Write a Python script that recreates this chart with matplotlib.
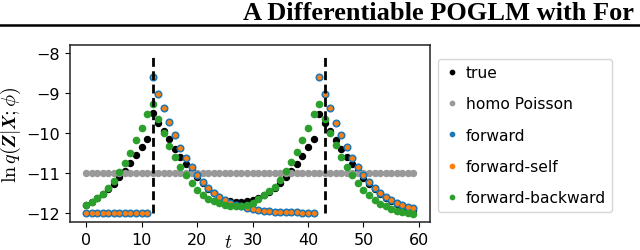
import matplotlib
matplotlib.use('Agg')
import matplotlib.pyplot as plt
from matplotlib.lines import Line2D

plt.rcParams['font.family'] = 'DejaVu Sans'
plt.rcParams['font.size'] = 11.5
plt.rcParams['mathtext.fontset'] = 'cm'

# time steps and the two spike times (dashed lines)
t = list(range(60))
spike_times = [12, 43]

true_vals = [-11.80, -11.72, -11.62, -11.52, -11.40, -11.27, -11.11, -10.96, -10.76, -10.55,
             -10.34, -10.14, -9.50, -9.75, -9.95, -10.16, -10.39, -10.59, -10.78, -10.95,
             -11.11, -11.26, -11.40, -11.51, -11.60, -11.67, -11.71, -11.73, -11.73, -11.71,
             -11.68, -11.63, -11.56, -11.48, -11.38, -11.26, -11.11, -10.96, -10.78, -10.57,
             -10.36, -10.14, -9.52, -9.74, -9.95, -10.18, -10.39, -10.59, -10.78, -10.96,
             -11.12, -11.27, -11.41, -11.53, -11.63, -11.71, -11.78, -11.84, -11.89, -11.93]

homo_vals = [-11.0] * 60

forward_vals = [-12.0, -12.0, -12.0, -12.0, -12.0, -12.0, -12.0, -12.0, -12.0, -12.0,
                -12.0, -12.0, -8.60, -9.02, -9.38, -9.73, -10.06, -10.37, -10.62, -10.86,
                -11.06, -11.23, -11.37, -11.49, -11.59, -11.68, -11.74, -11.79, -11.83, -11.87,
                -11.90, -11.92, -11.94, -11.95, -11.96, -11.97, -11.97, -11.98, -11.98, -11.99,
                -11.99, -11.99, -8.60, -9.02, -9.37, -9.74, -10.06, -10.35, -10.62, -10.86,
                -11.06, -11.23, -11.37, -11.49, -11.59, -11.68, -11.74, -11.79, -11.84, -11.87]

forward_self_vals = list(forward_vals)

fb_vals = [-11.81, -11.73, -11.63, -11.53, -11.38, -11.20, -10.97, -10.74, -10.49, -10.18,
           -9.87, -9.52, -9.27, -9.65, -10.00, -10.32, -10.59, -10.84, -11.06, -11.25,
           -11.42, -11.55, -11.64, -11.71, -11.76, -11.79, -11.82, -11.83, -11.83, -11.80,
           -11.75, -11.66, -11.56, -11.46, -11.34, -11.17, -10.96, -10.73, -10.48, -10.18,
           -9.87, -9.52, -9.27, -9.64, -10.00, -10.30, -10.59, -10.84, -11.05, -11.24,
           -11.42, -11.55, -11.67, -11.77, -11.83, -11.89, -11.94, -11.98, -12.00, -12.03]

fig = plt.figure(figsize=(6.4, 2.51), dpi=100)
ax = fig.add_axes([0.109, 0.110, 0.5625, 0.708])

ax.plot(t, true_vals, 'o', color='black', ms=4.3, label='true')
ax.plot(t, homo_vals, 'o', color='#999999', ms=4.3, label='homo Poisson')
ax.plot(t, forward_vals, 'o', color='#1f77b4', ms=4.8, label='forward')
ax.plot(t, forward_self_vals, 'o', color='#ff7f0e', ms=2.5, label='forward-self')
ax.plot(t, fb_vals, 'o', color='#2ca02c', ms=4.5, label='forward-backward')
for s in spike_times:
    ax.vlines(s, -12, -8, colors='black', linestyles=(0, (3.2, 1.6)), linewidth=2.0, zorder=5)

ax.set_yticks([-12, -11, -10, -9, -8])
ax.set_xticks([0, 10, 20, 30, 40, 50, 60])
ax.set_ylabel(r'$\ln q(\mathbfit{Z}|\mathbfit{X};\phi)$', fontsize=14.5, labelpad=2)
ax.set_xlabel(r'$t$', fontsize=14)
ax.xaxis.set_label_coords(0.44, -0.055)
for sp in ax.spines.values():
    sp.set_linewidth(1.1)
    sp.set_color('#222222')

leg = ax.legend(loc='center left', bbox_to_anchor=(1.0, 0.49), borderaxespad=0.5,
                handlelength=1.0, handletextpad=0.4, labelspacing=1.05, fontsize=11.2)
for h in leg.legend_handles:
    h.set_markersize(3.1)

# page header of the paper the figure was cut from
fig.text(0.379, 0.922, 'A Differentiable POGLM with For',
         family='Liberation Serif', weight='bold', fontsize=19, va='baseline')
fig.add_artist(Line2D([0, 1], [0.896, 0.896], color='black', linewidth=1.8))

plt.savefig('out.png', dpi=100)
